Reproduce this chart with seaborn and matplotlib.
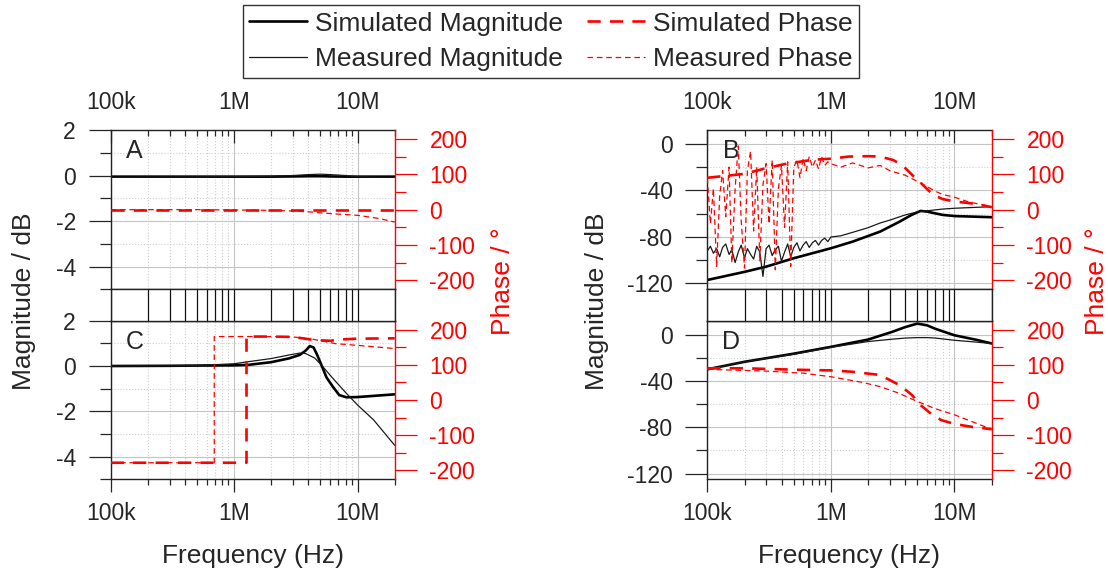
import numpy as np
import seaborn as sns
import matplotlib
matplotlib.use("Agg")
import matplotlib.pyplot as plt
from matplotlib.ticker import MultipleLocator, LogLocator, NullFormatter

# frequencies are given in kHz, magnitudes in dB, phases in degrees

# A - magnitude / phase, nearly flat
a_freq = [100, 200, 500, 1000, 2000, 3000, 4000, 5000, 6000, 8000, 10000, 15000, 20000]
a_sim_mag = [-0.05, -0.05, -0.05, -0.05, -0.05, -0.04, -0.03, -0.03, -0.04, -0.05, -0.05, -0.05, -0.05]
a_meas_mag = [-0.08, -0.07, -0.06, -0.05, -0.03, 0.0, 0.04, 0.06, 0.04, 0.0, -0.05, -0.08, -0.08]
a_sim_ph = [0, 0, 0, 0, 0, 0, 0, 0, 0, 0, 0, 0, 0]
a_meas_ph = [0, 0, 0, -1, -2, -4, -6, -9, -11, -14, -16, -25, -35]

# B - noisy low frequency measurement
b_sim_mag_freq = [100, 200, 300, 500, 1000, 1500, 2500, 3600, 4500, 5300, 6000, 8000, 10000, 20000]
b_sim_mag = [-117, -110, -105.5, -98.3, -89.7, -84, -75.4, -66.8, -61, -57.6, -58.2, -61, -62, -63]
b_meas_freq = [100, 106, 112, 119, 126, 133, 141, 150, 158, 168, 178, 188, 200, 211, 224,
               237, 251, 266, 282, 299, 316, 335, 355, 376, 398, 422, 447, 473, 501, 531,
               562, 596, 631, 668, 708, 750, 794, 841, 891, 944, 1000, 1200, 1500, 2000,
               2500, 3000, 4000, 5000, 6000, 8000, 10000, 15000, 20000]
b_meas_mag = [-92, -88, -94, -90, -97, -89, -86, -95, -91, -102, -93, -87, -98, -90, -95,
              -99, -88, -93, -114, -90, -87, -96, -91, -88, -101, -93, -86, -97, -89, -85,
              -92, -87, -84, -89, -85, -83, -87, -83, -81, -84, -80, -79, -76, -72,
              -68, -65.5, -61, -58.5, -57.5, -56, -55.3, -54.5, -54]
b_sim_ph_freq = [100, 200, 290, 440, 720, 1000, 1400, 2000, 2500, 3200, 3800, 4800, 5400,
                 6700, 8000, 10000, 12000, 15000, 20000]
b_sim_ph = [90, 101, 116, 130, 141, 144, 150, 151, 150, 140, 125, 90, 74, 42, 30, 23, 20, 16, 7]
b_meas_ph_freq = [100, 106, 112, 119, 126, 133, 141, 150, 158, 168, 178, 188, 200, 211, 224,
                  237, 251, 266, 282, 299, 316, 335, 355, 376, 398, 422, 447, 473, 501, 531,
                  562, 596, 631, 668, 708, 750, 794, 841, 891, 944, 1000, 1200, 1500, 2000,
                  2500, 3000, 4000, 5000, 6000, 7000, 8000, 10000, 13000, 20000]
b_meas_ph = [90, -40, 60, -160, 40, 110, -20, 120, -150, 60, 180, -30, -165, 110, 165,
             -60, 120, -145, 70, 130, -40, 140, -170, 60, 125, -50, 135, -160, 120, 140,
             90, 145, 110, 150, 120, 140, 115, 150, 125, 135, 130, 120, 132, 118,
             125, 110, 97, 80, 65, 52, 43, 35, 22, 8]

# C - phase jump from -180 to 180
c_sim_mag_freq = [100, 300, 500, 1000, 1300, 2000, 2800, 3400, 3800, 4100, 4400, 4700,
                  5100, 5600, 6300, 7100, 8100, 10000, 15000, 20000]
c_sim_mag = [0, 0.01, 0.02, 0.03, 0.05, 0.17, 0.34, 0.49, 0.68, 0.88, 0.82, 0.5,
             0.04, -0.5, -0.91, -1.28, -1.38, -1.37, -1.3, -1.25]
c_meas_mag_freq = [100, 500, 1000, 1300, 2000, 2800, 3400, 3800, 4500, 5100, 6300, 8100,
                   10000, 13500, 20000]
c_meas_mag = [0, 0.02, 0.1, 0.19, 0.33, 0.49, 0.57, 0.55, 0.35, 0.04, -0.54, -1.2,
              -1.72, -2.38, -3.5]
c_sim_ph_freq = [100, 1260, 1260, 2000, 3000, 4500, 6000, 7500, 10000, 20000]
c_sim_ph = [-178, -178, 180, 180, 179, 170, 168, 172, 174, 175]
c_meas_ph_freq = [100, 690, 690, 1000, 2000, 3000, 4400, 6600, 10000, 20000]
c_meas_ph = [-178, -178, 180, 180, 180, 179, 172, 160, 155, 146]

# D
d_freq = [100, 200, 500, 1000, 2000, 3100, 4000, 5000, 6000, 7000, 10000, 15000, 20000]
d_sim_mag = [-30, -23.5, -16.5, -10.6, -4.3, 2.2, 6.5, 9.5, 8, 5, -0.6, -4.5, -7.7]
d_meas_mag = [-30, -23.5, -17, -11, -6, -4, -3, -2.6, -2.6, -3, -4.9, -6.5, -7.7]
d_sim_ph_freq = [100, 200, 500, 1000, 1500, 2500, 3600, 4500, 5300, 6500, 7800, 10000, 13700, 20000]
d_sim_ph = [90, 90, 86, 84, 80, 71, 42, 15, -14, -40, -57, -68, -76, -83]
d_meas_ph_freq = [100, 300, 600, 1000, 1800, 2500, 3500, 4700, 6900, 10000, 14000, 20000]
d_meas_ph = [87, 82, 76, 66, 50, 38, 20, 0, -24, -42, -62, -83]

freq_ticks = [1e5, 1e6, 1e7]
freq_labels = ["100k", "1M", "10M"]

sns.set_style("ticks")
plt.rcParams["font.family"] = ["Liberation Sans", "DejaVu Sans"]
plt.rcParams["axes.unicode_minus"] = False

RED = "#ff0000"
TICK_FS = 16.5
W, H = 1108, 574
fig = plt.figure(figsize=(W / 100, H / 100), dpi=100)


def rect(x0, y0, x1, y1):
    """pixel box -> figure fraction"""
    return [x0 / W, 1 - y1 / H, (x1 - x0) / W, (y1 - y0) / H]


def khz(f):
    return np.array(f, dtype=float) * 1e3


def draw(ax, freq, vals, kind, label=None):
    styles = {
        "sim_mag": dict(color="black", linewidth=1.9, linestyle="-"),
        "meas_mag": dict(color="#1a1a1a", linewidth=0.9, linestyle="-"),
        "sim_ph": dict(color=RED, linewidth=1.9, linestyle=(0, (5, 3.5))),
        "meas_ph": dict(color=RED, linewidth=0.9, linestyle=(0, (4.5, 3))),
    }
    sns.lineplot(x=khz(freq), y=vals, ax=ax, estimator=None, sort=False,
                 errorbar=None, legend=False, label=label, **styles[kind])


def style_panel(ax, tw, ylim, ymaj, ymin, top, letter):
    ax.set_xscale("log")
    ax.set_xlim(1e5, 2e7)
    ax.set_ylim(*ylim)
    ax.set_xlabel("")
    ax.set_ylabel("")
    tw.set_ylabel("")
    ax.yaxis.set_major_locator(MultipleLocator(ymaj))
    ax.yaxis.set_minor_locator(MultipleLocator(ymin))
    ax.set_xticks(freq_ticks, labels=freq_labels)
    ax.xaxis.set_minor_locator(LogLocator(base=10, subs=np.arange(2, 10), numticks=20))
    ax.xaxis.set_minor_formatter(NullFormatter())
    ax.set_axisbelow(True)
    ax.grid(which="major", color="#c4c4c4", linewidth=0.8, linestyle="-")
    ax.grid(which="minor", color="#cfcfcf", linewidth=0.8, linestyle=":")
    ax.tick_params(axis="y", which="major", direction="out", length=16, width=0.9,
                   labelsize=TICK_FS, pad=9)
    ax.tick_params(axis="y", which="minor", direction="out", length=8, width=0.9)
    if top:
        ax.tick_params(axis="x", which="both", top=True, bottom=False, labeltop=True,
                       labelbottom=False, direction="in", width=0.9)
        ax.tick_params(axis="x", which="major", length=9.5, pad=11.5, labelsize=TICK_FS)
        ax.tick_params(axis="x", which="minor", length=4.5)
    else:
        ax.tick_params(axis="x", which="both", top=False, bottom=True, direction="out",
                       width=0.9)
        ax.tick_params(axis="x", which="major", length=9.5, pad=6.5, labelsize=TICK_FS)
        ax.tick_params(axis="x", which="minor", length=4.5)
    for s in ["left", "top", "bottom"]:
        ax.spines[s].set_color("#222222")
        ax.spines[s].set_linewidth(1.0)
        tw.spines[s].set_visible(False)
    ax.spines["right"].set_visible(False)
    tw.spines["right"].set_color(RED)
    tw.spines["right"].set_linewidth(1.0)
    tw.set_ylim(-225, 225)
    tw.yaxis.set_major_locator(MultipleLocator(100))
    tw.yaxis.set_minor_locator(MultipleLocator(50))
    tw.tick_params(axis="y", which="major", direction="out", length=16, width=0.9,
                   colors=RED, labelsize=TICK_FS, pad=9)
    tw.tick_params(axis="y", which="minor", direction="out", length=8, width=0.9,
                   colors=RED)
    ax.text(0.083, 0.868, letter, transform=ax.transAxes, ha="center", va="center",
            fontsize=18)
    for a in (ax, tw):
        if a.get_legend() is not None:
            a.get_legend().remove()


def make_strip(box):
    s = fig.add_axes(rect(*box))
    s.set_xscale("log")
    s.set_xlim(1e5, 2e7)
    s.set_yticks([])
    s.set_xticks(freq_ticks)
    s.xaxis.set_minor_locator(LogLocator(base=10, subs=np.arange(2, 10), numticks=20))
    s.grid(which="both", axis="x", color="#111111", linewidth=0.9, linestyle="-")
    s.tick_params(which="both", length=0, labelbottom=False, labelleft=False)
    for sp in s.spines.values():
        sp.set_color("#222222")
        sp.set_linewidth(1.0)


XL = (110.7, 394.7)
XR = (707.3, 991.7)
Y_TOP = (130, 289.3)
Y_STRIP = (289.3, 320.7)
Y_BOT = (320.7, 479.3)

# panel A
axA = fig.add_axes(rect(XL[0], Y_TOP[0], XL[1], Y_TOP[1]))
axA.set_xscale("log")
twA = axA.twinx()
draw(axA, a_freq, a_sim_mag, "sim_mag", "Simulated Magnitude")
draw(axA, a_freq, a_meas_mag, "meas_mag", "Measured Magnitude")
draw(twA, a_freq, a_sim_ph, "sim_ph", "Simulated Phase")
draw(twA, a_freq, a_meas_ph, "meas_ph", "Measured Phase")
style_panel(axA, twA, (-5, 2), 2, 1, True, "A")

# panel C
axC = fig.add_axes(rect(XL[0], Y_BOT[0], XL[1], Y_BOT[1]))
axC.set_xscale("log")
twC = axC.twinx()
draw(axC, c_sim_mag_freq, c_sim_mag, "sim_mag")
draw(axC, c_meas_mag_freq, c_meas_mag, "meas_mag")
draw(twC, c_sim_ph_freq, c_sim_ph, "sim_ph")
draw(twC, c_meas_ph_freq, c_meas_ph, "meas_ph")
style_panel(axC, twC, (-5, 2), 2, 1, False, "C")

# panel B
axB = fig.add_axes(rect(XR[0], Y_TOP[0], XR[1], Y_TOP[1]))
axB.set_xscale("log")
twB = axB.twinx()
draw(axB, b_sim_mag_freq, b_sim_mag, "sim_mag")
draw(axB, b_meas_freq, b_meas_mag, "meas_mag")
draw(twB, b_sim_ph_freq, b_sim_ph, "sim_ph")
draw(twB, b_meas_ph_freq, b_meas_ph, "meas_ph")
style_panel(axB, twB, (-125, 12), 40, 20, True, "B")

# panel D
axD = fig.add_axes(rect(XR[0], Y_BOT[0], XR[1], Y_BOT[1]))
axD.set_xscale("log")
twD = axD.twinx()
draw(axD, d_freq, d_sim_mag, "sim_mag")
draw(axD, d_freq, d_meas_mag, "meas_mag")
draw(twD, d_sim_ph_freq, d_sim_ph, "sim_ph")
draw(twD, d_meas_ph_freq, d_meas_ph, "meas_ph")
style_panel(axD, twD, (-125, 12), 40, 20, False, "D")

make_strip((XL[0], Y_STRIP[0], XL[1], Y_STRIP[1]))
make_strip((XR[0], Y_STRIP[0], XR[1], Y_STRIP[1]))

# axis titles
for xc in (252.5, 849.5):
    fig.text(xc / W, 1 - 556 / H, "Frequency (Hz)", ha="center", va="center", fontsize=19)
for xc in (24, 597):
    fig.text(xc / W, 1 - 301 / H, "Magnitude / dB", ha="center", va="center",
             rotation=90, fontsize=19)
for xc in (503, 1097):
    fig.text(xc / W, 1 - 281 / H, "Phase / °", ha="center", va="center",
             rotation=90, fontsize=19, color=RED)

# legend
h1, l1 = axA.get_legend_handles_labels()
h2, l2 = twA.get_legend_handles_labels()
leg = fig.legend(h1 + h2, l1 + l2, ncol=2, loc="upper center",
                 bbox_to_anchor=(551 / W, 1 - 5 / H), frameon=True, fancybox=False,
                 edgecolor="black", fontsize=19, handlelength=2.2, handletextpad=0.3,
                 columnspacing=0.9, borderpad=0.25, labelspacing=0.45, borderaxespad=0)
leg.get_frame().set_linewidth(1.0)

fig.savefig("out.png", dpi=100)
